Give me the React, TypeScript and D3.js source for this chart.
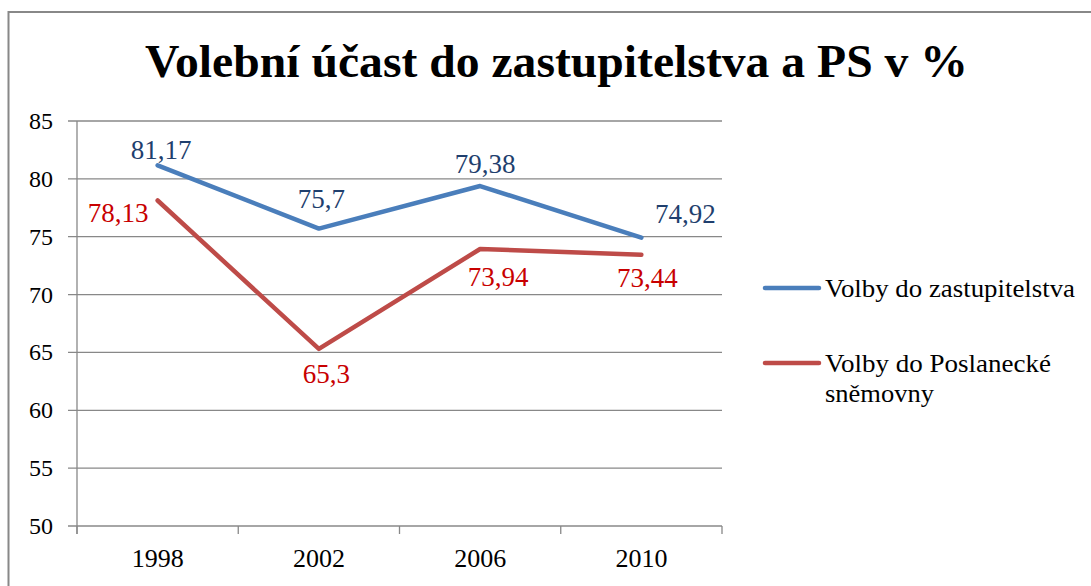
import React from "react";
import * as d3 from "d3";

const title = "Volební účast do zastupitelstva a PS v %";
const years = ["1998", "2002", "2006", "2010"];
const zastupitelstvo = [81.17, 75.7, 79.38, 74.92];
const poslanecka = [78.13, 65.3, 73.94, 73.44];
const zastLabels = ["81,17", "75,7", "79,38", "74,92"];
const poslLabels = ["78,13", "65,3", "73,94", "73,44"];
const yTicks = [50, 55, 60, 65, 70, 75, 80, 85];
const legendNames = ["Volby do zastupitelstva", "Volby do Poslanecké", "sněmovny"];

// label offsets (layout, not data)
const zastOffsets: [number, number][] = [[3.5, -6], [2.6, -20.6], [5, -13], [44, -15]];
const poslOffsets: [number, number][] = [[-39.6, 21.5], [7.6, 34], [18, 37], [6, 32]];

const BLUE = "#4A7EBB";
const RED = "#BE4B48";
const BLUE_TXT = "#1F3F6E";
const RED_TXT = "#C80000";
const GRID = "#888888";
const FONT = '"Liberation Serif", "Times New Roman", serif';

export default function App() {
  const x = d3.scaleBand<string>().domain(years).range([77, 722]);
  const y = d3.scaleLinear().domain([50, 85]).range([526, 121]);
  const cx = (d: string) => (x(d) as number) + x.bandwidth() / 2;
  const line = d3
    .line<number>()
    .x((_, i) => cx(years[i]))
    .y((v) => y(v));
  const boundaries = [...years.map((d) => x(d) as number), 722];

  return (
    <svg
      width={1091}
      height={586}
      style={{ position: "absolute", left: 0, top: 0, background: "#fff", fontFamily: FONT }}
    >
      <rect x={8.5} y={12} width={1200} height={700} fill="#fff" stroke={GRID} strokeWidth={2} />
      <text x={556.5} y={77} textAnchor="middle" fontSize={47} fontWeight="bold" textLength={823} lengthAdjust="spacingAndGlyphs">
        {title}
      </text>
      {yTicks.map((t) => (
        <g key={t}>
          <line x1={68} x2={722} y1={y(t)} y2={y(t)} stroke={GRID} strokeWidth={1.3} />
          <text x={53} y={y(t) + 8} textAnchor="end" fontSize={24}>
            {t}
          </text>
        </g>
      ))}
      <line x1={77} x2={77} y1={y(85)} y2={534} stroke={GRID} strokeWidth={1.3} />
      {boundaries.map((b, i) => (
        <line key={i} x1={b} x2={b} y1={526} y2={534} stroke={GRID} strokeWidth={1.3} />
      ))}
      {years.map((yr) => (
        <text key={yr} x={cx(yr)} y={566.5} textAnchor="middle" fontSize={26}>
          {yr}
        </text>
      ))}
      <path d={line(zastupitelstvo) as string} fill="none" stroke={BLUE} strokeWidth={4.5} strokeLinejoin="round" strokeLinecap="round" />
      <path d={line(poslanecka) as string} fill="none" stroke={RED} strokeWidth={4.5} strokeLinejoin="round" strokeLinecap="round" />
      {zastupitelstvo.map((v, i) => (
        <text key={"z" + i} x={cx(years[i]) + zastOffsets[i][0]} y={y(v) + zastOffsets[i][1]} textAnchor="middle" fontSize={27} fill={BLUE_TXT}>
          {zastLabels[i]}
        </text>
      ))}
      {poslanecka.map((v, i) => (
        <text key={"p" + i} x={cx(years[i]) + poslOffsets[i][0]} y={y(v) + poslOffsets[i][1]} textAnchor="middle" fontSize={27} fill={RED_TXT}>
          {poslLabels[i]}
        </text>
      ))}
      <line x1={765} x2={819} y1={288} y2={288} stroke={BLUE} strokeWidth={4.5} strokeLinecap="round" />
      <text x={825} y={297} fontSize={26} textLength={250} lengthAdjust="spacingAndGlyphs">{legendNames[0]}</text>
      <line x1={765} x2={819} y1={363} y2={363} stroke={RED} strokeWidth={4.5} strokeLinecap="round" />
      <text x={825} y={372} fontSize={26} textLength={226} lengthAdjust="spacingAndGlyphs">{legendNames[1]}</text>
      <text x={825} y={402} fontSize={26} textLength={109} lengthAdjust="spacingAndGlyphs">{legendNames[2]}</text>
    </svg>
  );
}
